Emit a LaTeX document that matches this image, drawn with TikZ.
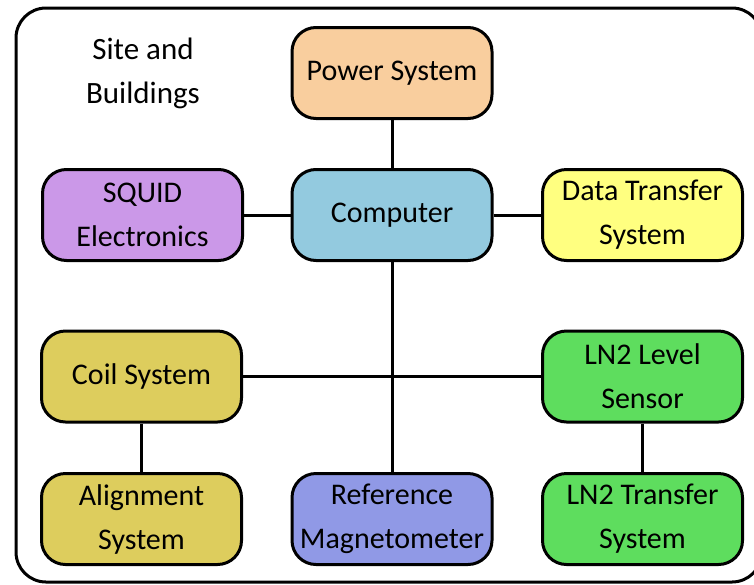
\documentclass[tikz,border=0pt]{standalone}
\usepackage{fontspec}
\setmainfont{Carlito}
\definecolor{cpower}{HTML}{F9CE9E}
\definecolor{ccomp}{HTML}{93CADF}
\definecolor{csquid}{HTML}{CB98E8}
\definecolor{cdata}{HTML}{FFFF80}
\definecolor{ccoil}{HTML}{DDCD5D}
\definecolor{cln}{HTML}{5EDD5E}
\definecolor{cref}{HTML}{9099E6}
\begin{document}
\begin{tikzpicture}[x=1pt,y=-1pt,
  box/.style={draw=black,line width=3pt,rounded corners=24pt,minimum width=200pt,minimum height=91pt,inner sep=0pt,align=center,font=\fontsize{30}{44}\selectfont},
  link/.style={line width=3pt}]
\useasboundingbox (0,0) rectangle (754,584);
\begin{scope}
\clip (0,0) rectangle (754,584);
\draw[line width=3pt,rounded corners=30pt] (16,8) rectangle (762,582);
\end{scope}
\node[align=center,font=\fontsize{31}{44}\selectfont] (site) at (143,73) {Site and\\Buildings};
\node[box,fill=cpower] (power) at (392,73) {Power System};
\node[box,fill=ccomp] (comp) at (392,215) {Computer};
\node[box,fill=csquid] (squid) at (142.5,215) {SQUID\\Electronics};
\node[box,fill=cdata] (data) at (642.5,215) {Data Transfer\\System};
\node[box,fill=ccoil] (coil) at (141.5,376.5) {Coil System};
\node[box,fill=cln] (lnlevel) at (642.5,376.5) {LN2 Level\\Sensor};
\node[box,fill=ccoil] (align) at (141.5,519) {Alignment\\System};
\node[box,fill=cref] (ref) at (392,519) {Reference\\Magnetometer};
\node[box,fill=cln] (lntrans) at (642.5,519) {LN2 Transfer\\System};
\draw[link] (power) -- (comp);
\draw[link] (squid) -- (comp);
\draw[link] (comp) -- (data);
\draw[link] (comp.south) -- (ref.north);
\draw[link] (coil) -- (lnlevel);
\draw[link] (coil) -- (align);
\draw[link] (lnlevel) -- (lntrans);
\end{tikzpicture}
\end{document}
